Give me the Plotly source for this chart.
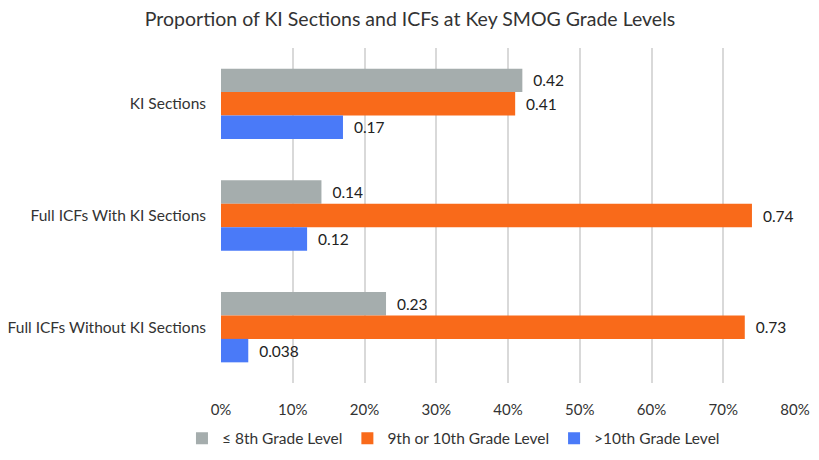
import plotly.graph_objects as go

categories = ['KI Sections', 'Full ICFs With KI Sections', 'Full ICFs Without KI Sections']
series_names = ['≤ 8th Grade Level', '9th or 10th Grade Level', '>10th Grade Level']
le8 = [0.42, 0.14, 0.23]
g9_10 = [0.41, 0.74, 0.73]
gt10 = [0.17, 0.12, 0.038]
colors = ['#A5ADAD', '#F96A1A', '#4A7AF8']

FONT = 'Lato'

fig = go.Figure()

for name, vals, col in zip(series_names, [le8, g9_10, gt10], colors):
    fig.add_trace(go.Bar(
        y=categories,
        x=vals,
        name=name,
        orientation='h',
        marker=dict(color=col, line=dict(width=0)),
        text=['\u00a0\u00a0' + str(v) for v in vals],
        textposition='outside',
        textfont=dict(size=15.5, color='#222222', family=FONT),
        cliponaxis=False,
    ))

# page body has an 8px margin, so the figure is made 16px smaller to avoid scrollbars
fig.update_layout(
    width=811,
    height=444,
    barmode='group',
    bargap=0.37,
    bargroupgap=0,
    plot_bgcolor='white',
    paper_bgcolor='white',
    font=dict(family=FONT, size=15.5, color='#333333'),
    title=dict(text='Proportion of KI Sections and ICFs at Key SMOG Grade Levels',
               x=0.4957, xanchor='center', y=0.99, yanchor='top',
               pad=dict(t=0, b=0),
               font=dict(size=19.5, color='#333333', family=FONT)),
    margin=dict(l=213, r=24, t=40, b=69),
    legend=dict(orientation='h', x=0.405, xanchor='center',
                yref='container', y=0.03, yanchor='middle',
                font=dict(size=15.5), itemwidth=30),
    showlegend=True,
)

fig.update_xaxes(range=[0, 0.8], dtick=0.1, tickformat='.0%', showgrid=True,
                 gridcolor='#D9D9D9', gridwidth=1.5, zeroline=False,
                 showline=False, ticks='', tickfont=dict(size=15),
                 ticklabelstandoff=16, ticklabeloverflow='allow',
                 automargin=False)
fig.update_yaxes(autorange='reversed', showgrid=False, showline=False,
                 ticks='', tickfont=dict(size=15.5), ticklabelstandoff=14,
                 automargin=False)

fig.write_html('out.html')
